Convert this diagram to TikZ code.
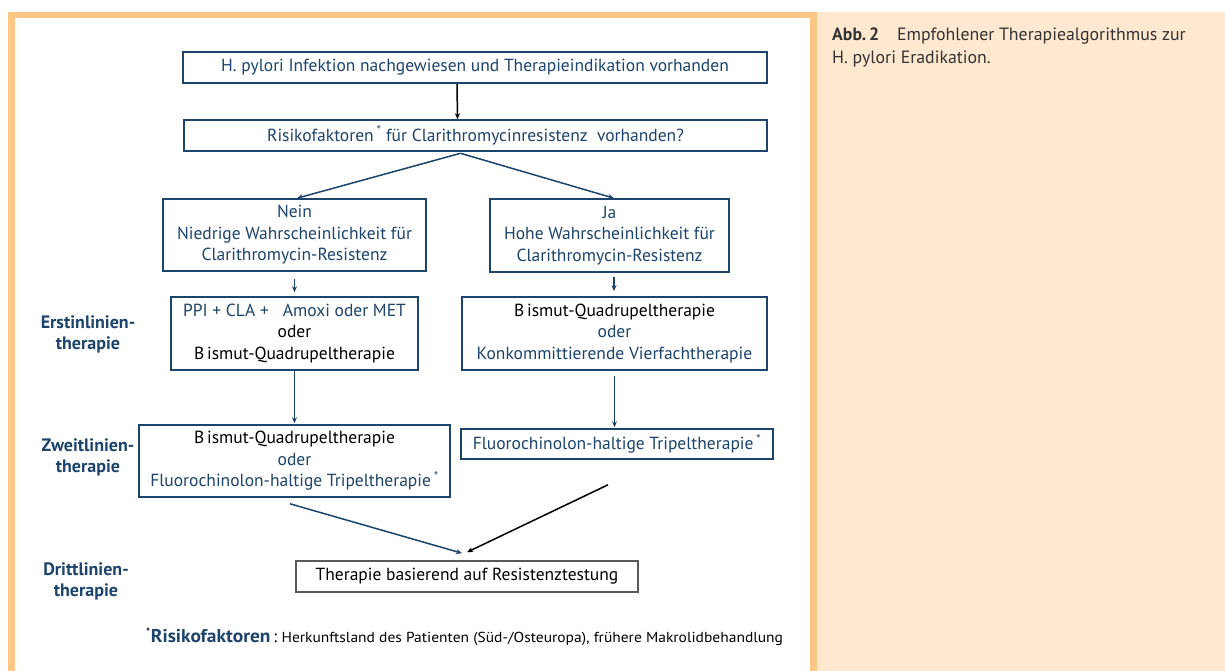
\documentclass[tikz,border=0pt]{standalone}
\usepackage{fontspec}
\setmainfont{PT Sans}
\usetikzlibrary{arrows.meta}
\definecolor{dblue}{RGB}{28,68,108}
\definecolor{frameor}{RGB}{255,199,133}
\definecolor{peach}{RGB}{254,232,207}
\definecolor{capgray}{RGB}{51,51,51}
\begin{document}
\begin{tikzpicture}[x=1pt,y=-1pt,
  box/.style={draw=dblue, line width=1.6pt, text=dblue, align=center, inner sep=0pt, font=\fontsize{17.5}{21.5}\selectfont},
  arr/.style={-{Stealth[length=6pt,width=5pt]}, line width=1.5pt, draw=dblue},
  blackarr/.style={-{Stealth[length=6pt,width=5pt]}, line width=1.5pt, draw=black},
  side/.style={text=dblue, font=\bfseries\fontsize{18}{21}\selectfont, align=center, inner sep=0pt}]
\useasboundingbox (0,0) rectangle (1225,671);
\fill[white] (0,0) rectangle (1225,671);
\fill[frameor] (8,12) rectangle (817,18);
\fill[frameor] (8,12) rectangle (15,671);
\fill[frameor] (810,12) rectangle (817,671);
\fill[peach] (817,12) rectangle (1225,671);

\node[box, minimum width=584pt, minimum height=31pt] (b1) at (475,67.5) {H. pylori Infektion nachgewiesen und Therapieindikation vorhanden};
\node[box, minimum width=583pt, minimum height=31pt] (b2) at (475.5,135.5) {Risikofaktoren\,\textsuperscript{*} für Clarithromycinresistenz\ \ vorhanden?};
\node[box, minimum width=263pt, minimum height=72pt] (b3) at (294.5,235) {Nein\\Niedrige Wahrscheinlichkeit für\\Clarithromycin-Resistenz};
\node[box, minimum width=239pt, minimum height=73pt] (b4) at (609.5,235.5) {Ja\\Hohe Wahrscheinlichkeit für\\Clarithromycin-Resistenz};
\node[box, minimum width=247pt, minimum height=73pt] (b5) at (294.5,333.5) {PPI + CLA +\hspace{0.8em}Amoxi oder MET\\\textcolor{black}{oder}\\\textcolor{black}{B\,ismut-Quadrupeltherapie}};
\node[box, minimum width=305pt, minimum height=73pt] (b6) at (614.5,333.5) {\textcolor{black}{B\,ismut-Quadrupeltherapie}\\oder\\Konkommittierende Vierfachtherapie};
\node[box, minimum width=311pt, minimum height=72pt] (b7) at (294.5,461) {\textcolor{black}{B\,ismut-Quadrupeltherapie}\\oder\\Fluorochinolon-haltige Tripeltherapie\,\textsuperscript{*}};
\node[box, minimum width=312pt, minimum height=30pt] (b8) at (617,444) {Fluorochinolon-haltige Tripeltherapie\,\textsuperscript{*}};
\node[box, draw=black!65, text=black, minimum width=342pt, minimum height=31pt] (b9) at (467,576.5) {Therapie basierend auf Resistenztestung};

\node[side] (l1) at (88,334) {Erstinlinien-\\therapie};
\node[side] (l2) at (88,457) {Zweitlinien-\\therapie};
\node[side] (l3) at (86,581) {Drittlinien-\\therapie};

\draw[blackarr] ([xshift=-18pt]b1.south) -- ([xshift=-18pt]b2.north);
\draw[arr] ([xshift=-15pt,yshift=-1.5pt]b2.south) -- ([xshift=2.5pt]b3.north);
\draw[arr] ([xshift=-15pt,yshift=-1.5pt]b2.south) -- ([xshift=4.5pt]b4.north);
\draw[arr] ([yshift=-7pt]b3.south) -- ([yshift=4pt]b5.north);
\draw[arr] ([xshift=4.5pt,yshift=-4pt]b4.south) -- ([xshift=-0.5pt,yshift=5pt]b6.north);
\draw[arr] (b5.south) -- ([yshift=1pt]b7.north);
\draw[arr] ([yshift=-5pt]b6.south) -- ([xshift=-2.5pt,yshift=1pt]b8.north);
\draw[arr] ([xshift=-4.5pt,yshift=-6pt]b7.south) -- ([xshift=-5pt,yshift=7pt]b9.north);
\draw[blackarr] ([xshift=-9pt,yshift=-25pt]b8.south) -- ([yshift=8pt]b9.north);

\node[anchor=west, inner sep=0pt, font=\fontsize{17}{18}\selectfont] (fn) at (146,637) {\textsuperscript{*}\textcolor{dblue}{\scalebox{1.05}[1]{\fontsize{18.5}{20}\selectfont\bfseries Risikofaktoren}}\,:\ \scalebox{1.07}[1]{\fontsize{14.5}{18}\selectfont Herkunftsland des Patienten (Süd-/Osteuropa), frühere Makrolidbehandlung}};

\node[anchor=north west, inner sep=0pt, align=left, text=capgray, font=\fontsize{17.8}{23}\selectfont] (cap) at (832,28) {\textbf{Abb.\,2}\quad Empfohlener Therapiealgorithmus zur\\H. pylori Eradikation.};
\end{tikzpicture}
\end{document}
